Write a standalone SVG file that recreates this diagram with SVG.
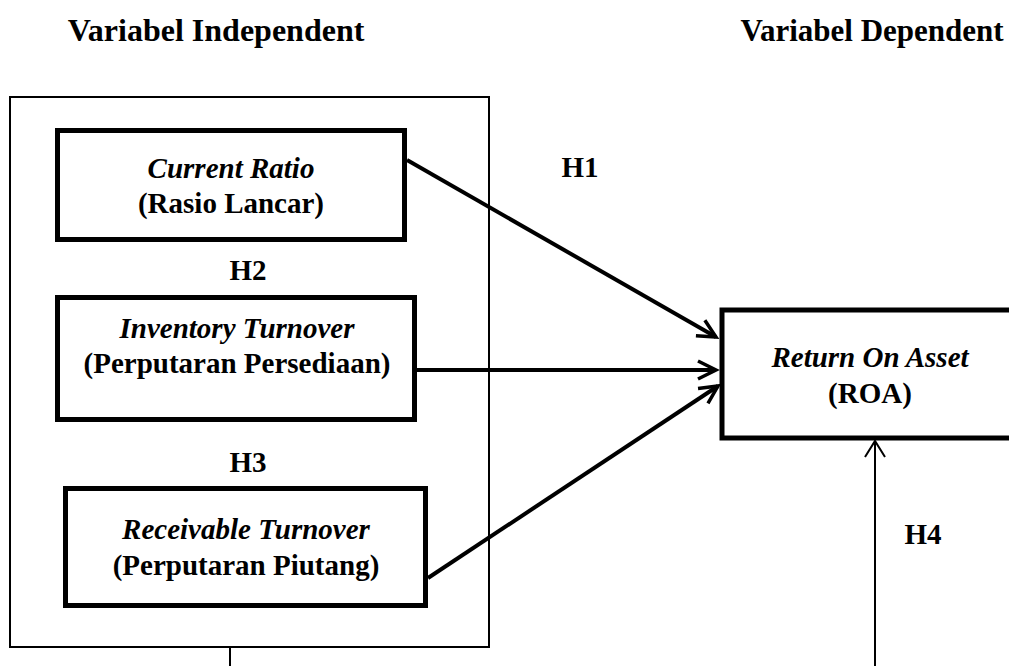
<svg xmlns="http://www.w3.org/2000/svg" width="1009" height="666" viewBox="0 0 1009 666">
<defs>
<style>
text{font-family:"Liberation Serif","Times New Roman",serif;font-weight:bold;font-size:29px;fill:#000;text-anchor:middle}
.it{font-style:italic}
.title{font-size:32px}
.box{fill:#fff;stroke:#000;stroke-width:5}
.thin{fill:none;stroke:#000;stroke-width:2}
.arr{fill:none;stroke:#000;stroke-width:4}
</style>
<marker id="ah" markerUnits="userSpaceOnUse" viewBox="-22 -12 26 24" markerWidth="26" markerHeight="24" refX="0" refY="0" orient="auto">
<path d="M -18 -9 L 0 0 L -18 9" fill="none" stroke="#000" stroke-width="3.5"/>
</marker>
<marker id="ahs" markerUnits="userSpaceOnUse" viewBox="-20 -12 24 24" markerWidth="24" markerHeight="24" refX="0" refY="0" orient="auto">
<path d="M -16 -10 L 0 0 L -16 10" fill="none" stroke="#000" stroke-width="2"/>
</marker>
</defs>
<rect width="1009" height="666" fill="#fff"/>
<g id="titles">
<text class="title" x="216" y="41">Variabel Independent</text>
<text class="title" x="872" y="41" style="font-size:31px">Variabel Dependent</text>
</g>
<g id="independent-group">
<rect class="thin" x="10" y="97" width="479" height="550"/>
</g>
<g id="current-ratio">
<rect class="box" x="57.5" y="130.5" width="347" height="109"/>
<text class="it" x="231" y="178">Current Ratio</text>
<text x="231" y="213">(Rasio Lancar)</text>
</g>
<g id="inventory-turnover">
<rect class="box" x="57.5" y="297.5" width="357" height="122"/>
<text class="it" x="237" y="338">Inventory Turnover</text>
<text x="237" y="373">(Perputaran Persediaan)</text>
</g>
<g id="receivable-turnover">
<rect class="box" x="65.5" y="488.5" width="360" height="117"/>
<text class="it" x="246" y="539">Receivable Turnover</text>
<text x="246" y="575">(Perputaran Piutang)</text>
</g>
<g id="roa">
<rect class="box" x="722" y="310" width="300" height="128" stroke-width="4"/>
<text class="it" x="870" y="367">Return On Asset</text>
<text x="870" y="403">(ROA)</text>
</g>
<g id="connectors">
<line class="arr" x1="407" y1="160" x2="716" y2="337" marker-end="url(#ah)"/>
<line class="arr" x1="417" y1="370" x2="716" y2="370" marker-end="url(#ah)"/>
<line class="arr" x1="428" y1="578" x2="718" y2="386" marker-end="url(#ah)"/>
<line class="thin" x1="875" y1="666" x2="875" y2="441" marker-end="url(#ahs)"/>
<line class="thin" x1="230" y1="647" x2="230" y2="666"/>
</g>
<g id="labels">
<text x="580" y="177">H1</text>
<text x="248" y="280">H2</text>
<text x="248" y="472">H3</text>
<text x="923" y="544">H4</text>
</g>
</svg>
